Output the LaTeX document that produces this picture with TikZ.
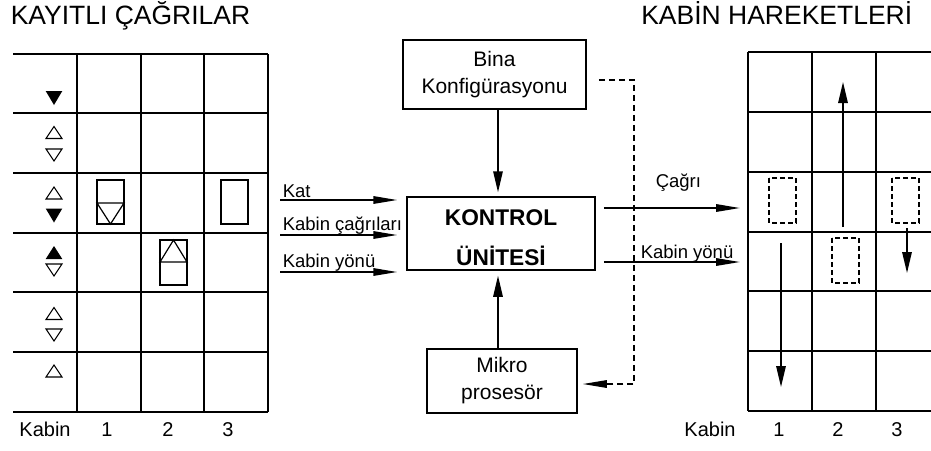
\documentclass[tikz,border=0pt]{standalone}
\usepackage{fontspec}
\setmainfont{Liberation Sans}
\usetikzlibrary{arrows.meta}
\begin{document}
\begin{tikzpicture}[x=1pt,y=-1pt,line width=1.5pt,
  arr/.style={-{Triangle[length=21pt,width=9.5pt]}},
  harr/.style={-{Triangle[length=24pt,width=7.5pt]}},
  box/.style={draw,line width=1.5pt,align=center,inner sep=0pt,font=\fontsize{21}{27}\selectfont},
  lbl/.style={inner sep=0pt,font=\fontsize{18.5}{22}\selectfont},
  titlef/.style={inner sep=0pt,font=\fontsize{26.5}{30}\selectfont},
  botf/.style={inner sep=0pt,anchor=base,font=\fontsize{20}{24}\selectfont},
  dline/.style={line width=1.4pt,dash pattern=on 6pt off 4pt},
  drect/.style={line width=1.3pt,dash pattern=on 5pt off 3pt},
  tup/.pic={\draw[line width=1.1pt] (-8,6) -- (8,6) -- (0,-6) -- cycle;},
  tdown/.pic={\draw[line width=1.1pt] (-8,-6) -- (8,-6) -- (0,6) -- cycle;},
  fup/.pic={\fill (-8.3,6.5) -- (8.3,6.5) -- (0,-6.5) -- cycle;},
  fdown/.pic={\fill (-8.3,-7) -- (8.3,-7) -- (0,7) -- cycle;}]
\useasboundingbox (0,0) rectangle (931,450);

% titles
\node[titlef,anchor=base west] (t1) at (10,24) {KAYITLI ÇAĞRILAR};
\node[titlef,anchor=base east] (t2) at (913,24) {KABİN HAREKETLERİ};

% left grid
\foreach \y in {54,113,173,233,292,352,412} \draw (13,\y) -- (268,\y);
\foreach \x in {77,141,204,268} \draw (\x,54) -- (\x,412);

% call markers
\pic at (54,98) {fdown};
\pic at (54,132.5) {tup};
\pic at (54,155) {tdown};
\pic at (54,193) {tup};
\pic at (54,215.5) {fdown};
\pic at (54,252.5) {fup};
\pic at (54,270) {tdown};
\pic at (54,313.5) {tup};
\pic at (54,335) {tdown};
\pic at (54,371) {tup};

% cabins in left grid
\draw[line width=1.2pt] (97,180) rectangle (124,224);
\draw[line width=1.2pt] (97,203) -- (124,203) -- (110.5,224) -- cycle;
\draw[line width=1.2pt] (221,180) rectangle (248,224);
\draw[line width=1.2pt] (160,240) rectangle (187,285);
\draw[line width=1.2pt] (160,262) -- (187,262) -- (173.5,240) -- cycle;

\node[botf] (lk) at (45,436) {Kabin};
\node[botf] (l1) at (107,436) {1};
\node[botf] (l2) at (168,436) {2};
\node[botf] (l3) at (228,436) {3};

% right grid
\foreach \y in {52,112,172,232,291,351,411} \draw (748,\y) -- (931,\y);
\foreach \x in {748,812,876} \draw (\x,52) -- (\x,411);
\coordinate (rg) at (748,0);

\draw[drect] (769,178) rectangle (796,223);
\draw[drect] (892,178) rectangle (919,223);
\draw[drect] (832,238) rectangle (859,283);

\draw[arr] (843,227) -- (843,82);
\draw[arr] (907,228) -- (907,273);
\draw[arr] (781,243) -- (781,387);

\node[botf] (rk) at (710,436) {Kabin};
\node[botf] (r1) at (779,436) {1};
\node[botf] (r2) at (838,436) {2};
\node[botf] (r3) at (897,436) {3};

% center boxes
\node[box,minimum width=183pt,minimum height=69pt] (bina) at (494.5,74.5) {Bina\\Konfigürasyonu};
\node[box,minimum width=188pt,minimum height=73pt,font=\fontsize{22.7}{40}\selectfont\bfseries] (kontrol) at (501,233.5) {\rule{0pt}{24.5pt}KONTROL\\ÜNİTESİ};
\node[box,minimum width=150pt,minimum height=64pt] (mikro) at (502,381) {Mikro\\prosesör};
\coordinate (mx) at (498,0);

\draw[arr,shorten >=4pt] (bina.south -| mx) -- (kontrol.north -| mx);
\draw[arr,shorten >=5pt] (mikro.north -| mx) -- (kontrol.south -| mx);

% inputs
\coordinate (in1) at (280,200);
\coordinate (in2) at (280,235);
\coordinate (in3) at (280,272);
\draw[harr,shorten >=9pt] (in1) -- (in1 -| kontrol.west);
\draw[harr,shorten >=9pt] (in2) -- (in2 -| kontrol.west);
\draw[harr,shorten >=9pt] (in3) -- (in3 -| kontrol.west);
\node[lbl,anchor=base west] (lkat) at (282,197) {Kat};
\node[lbl,anchor=base west] (lkc) at (282,230) {Kabin çağrıları};
\node[lbl,anchor=base west] (lky) at (282,267) {Kabin yönü};

% outputs
\draw[harr,shorten <=8pt,shorten >=8pt] (kontrol.east |- 0,208) -- (rg |- 0,208);
\draw[harr,shorten <=8pt,shorten >=8pt] (kontrol.east |- 0,262) -- (rg |- 0,262);
\node[lbl,anchor=base west] (lca) at (655,187) {Çağrı};
\node[lbl,anchor=base west] (lry) at (640,258) {Kabin yönü};

% dashed feedback
\draw[dline,harr,shorten <=12pt,shorten >=5pt] (bina.east |- 0,80) -- (634,80) -- (634,384) -- (mikro.east |- 0,384);
\end{tikzpicture}
\end{document}
